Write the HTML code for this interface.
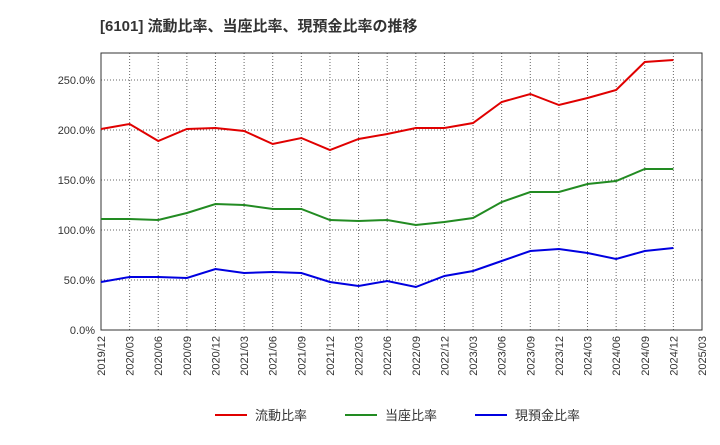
<!DOCTYPE html>
<html><head><meta charset="utf-8"><style>
body{margin:0;background:#fff;font-family:"Liberation Sans","Noto Sans CJK JP",sans-serif;}
</style></head><body>
<svg id="chart" width="720" height="440" xmlns="http://www.w3.org/2000/svg">
<text x="100" y="31" font-size="15" font-weight="bold" fill="#333" font-family="Liberation Sans, Noto Sans CJK JP, sans-serif">[6101]  流動比率、当座比率、現預金比率の推移</text>
<g id="grid"></g><g id="axes"></g><g id="series"></g><g id="legend"></g>
</svg>
<script>
const categories=["2019/12","2020/03","2020/06","2020/09","2020/12","2021/03","2021/06","2021/09","2021/12","2022/03","2022/06","2022/09","2022/12","2023/03","2023/06","2023/09","2023/12","2024/03","2024/06","2024/09","2024/12","2025/03"];
const currentRatio=[201,206,189,201,202,199,186,192,180,191,196,202,202,207,228,236,225,232,240,268,270];
const quickRatio=[111,111,110,117,126,125,121,121,110,109,110,105,108,112,128,138,138,146,149,161,161];
const cashRatio=[48,53,53,52,61,57,58,57,48,44,49,43,54,59,69,79,81,77,71,79,82];
const yTicks=[0,50,100,150,200,250];
const yTickLabels=["0.0%","50.0%","100.0%","150.0%","200.0%","250.0%"];
const seriesNames=["流動比率","当座比率","現預金比率"];
const NS="http://www.w3.org/2000/svg";
const L=101,R=702,T=53,B=330;
const x=i=>L+i*(R-L)/(categories.length-1);
const y=v=>B-v*(B-80)/250;
function mk(tag,attrs,parent){const e=document.createElementNS(NS,tag);for(const k in attrs)e.setAttribute(k,attrs[k]);document.getElementById(parent).appendChild(e);return e;}
const fam="Liberation Sans, Noto Sans CJK JP, sans-serif";
for(let i=0;i<categories.length;i++){
 const g=mk('line',{x1:x(i),x2:x(i),y1:T,y2:B,stroke:'#666','stroke-dasharray':'1,2','stroke-width':1},'grid');
 
 const t=mk('text',{transform:`translate(${x(i)+4},${B+6}) rotate(-90)`,'text-anchor':'end','font-size':11,fill:'#333','font-family':fam},'axes');
 t.textContent=categories[i];
 
}
yTicks.forEach((v,i)=>{
 const g=mk('line',{x1:L,x2:R,y1:y(v),y2:y(v),stroke:'#666','stroke-dasharray':'1,2','stroke-width':1},'grid');
 
 const t=mk('text',{x:L-6,y:y(v)+4,'text-anchor':'end','font-size':11,fill:'#333','font-family':fam},'axes');
 t.textContent=yTickLabels[i];
 
});
const frame=mk('rect',{x:L,y:T,width:R-L,height:B-T,fill:'none',stroke:'#333','stroke-width':1},'axes');

const colors=['#e00000','#228b22','#0000e0'];
const names=['current-ratio-line','quick-ratio-line','cash-ratio-line'];
[currentRatio,quickRatio,cashRatio].forEach((d,s)=>{
 const p=mk('polyline',{points:d.map((v,i)=>x(i)+','+y(v)).join(' '),fill:'none',stroke:colors[s],'stroke-width':2},'series');
 
});
const lx=[215,345,475];
seriesNames.forEach((n,s)=>{
 const l=mk('line',{x1:lx[s],x2:lx[s]+32,y1:415,y2:415,stroke:colors[s],'stroke-width':2},'legend');
 
 const t=mk('text',{x:lx[s]+40,y:420,'font-size':13,fill:'#333','font-family':fam},'legend');
 t.textContent=n;
 
});
</script>
</body></html>
